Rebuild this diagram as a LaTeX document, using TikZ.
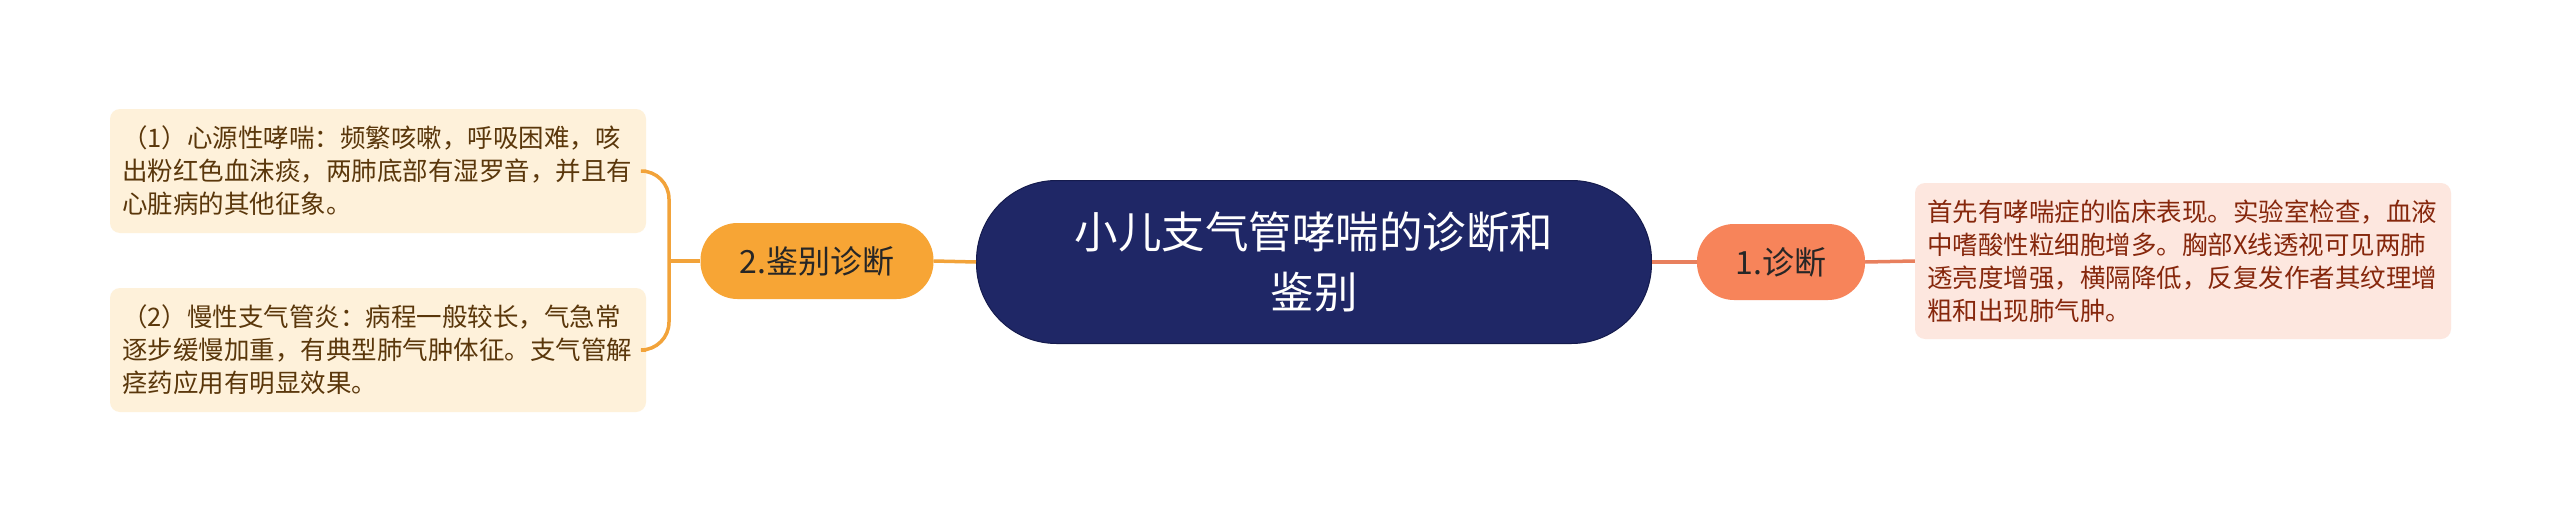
\documentclass[tikz,border=0pt]{standalone}
\usepackage{fontspec}
\newfontfamily\cjk{Noto Sans CJK SC}
\usetikzlibrary{calc}
\definecolor{navy}{HTML}{1F2766}
\definecolor{navyedge}{HTML}{151B4D}
\definecolor{orangenode}{HTML}{F7A535}
\definecolor{orangeline}{HTML}{F2A33A}
\definecolor{coralnode}{HTML}{F7845A}
\definecolor{coralline}{HTML}{E8805E}
\definecolor{creamfill}{HTML}{FEF1DA}
\definecolor{pinkfill}{HTML}{FDE7DF}
\definecolor{brownL}{HTML}{5A370B}
\definecolor{brownR}{HTML}{86270C}
\tikzset{
  leafL/.style={fill=creamfill, rounded corners=10pt, text width=512pt, inner xsep=12pt, inner ysep=0pt, align=left, text=brownL, font=\cjk\fontsize{25.5}{33}\selectfont},
  leafR/.style={fill=pinkfill, rounded corners=10pt, text width=512pt, inner xsep=12pt, inner ysep=0pt, align=left, text=brownR, font=\cjk\fontsize{25.5}{33}\selectfont},
  mainnode/.style={rounded corners=37pt, minimum height=76pt, inner xsep=0pt, inner ysep=0pt, text=black!85, font=\cjk\fontsize{32}{38}\selectfont},
  lineL/.style={draw=orangeline, line width=3.5pt},
  lineR/.style={draw=coralline, line width=3.5pt}
}
\begin{document}
\begin{tikzpicture}[x=1pt,y=-1pt]
\useasboundingbox (0,0) rectangle (2560,522);
\fill[white] (0,0) rectangle (2560,522);

\node[draw=navyedge, line width=1pt, fill=navy, rounded corners=80pt, minimum width=675pt, minimum height=163pt, inner sep=0pt, text=white, align=center, font=\cjk\fontsize{43.5}{60}\selectfont] (c) at (1314,262) {小儿支气管哮喘的诊断和\\鉴别};

\node[mainnode, fill=orangenode, minimum width=233pt] (n2) at (817,261) {2.鉴别诊断};
\node[mainnode, fill=coralnode, minimum width=168pt] (n1) at (1781,262) {1.诊断};

\node[leafL, minimum height=124pt] (b1) at (378,171) {（1）心源性哮喘：频繁咳嗽，呼吸困难，咳\\出粉红色血沫痰，两肺底部有湿罗音，并且有\\心脏病的其他征象。};
\node[leafL, minimum height=124pt] (b2) at (378,350) {（2）慢性支气管炎：病程一般较长，气急常\\逐步缓慢加重，有典型肺气肿体征。支气管解\\痉药应用有明显效果。};
\node[leafR, minimum height=156pt] (b3) at (2183,261) {首先有哮喘症的临床表现。实验室检查，血液\\中嗜酸性粒细胞增多。胸部X线透视可见两肺\\透亮度增强，横隔降低，反复发作者其纹理增\\粗和出现肺气肿。};

\coordinate (j) at (669,261);
\draw[lineL] (c.west) -- (n2.east);
\draw[lineL] (n2.west) -- (j);
\draw[lineL, rounded corners=28pt] (b1.east) -| (j) |- (b2.east);
\draw[lineR] (c.east) -- (n1.west);
\draw[lineR] (n1.east) -- (b3.west);
\end{tikzpicture}
\end{document}
